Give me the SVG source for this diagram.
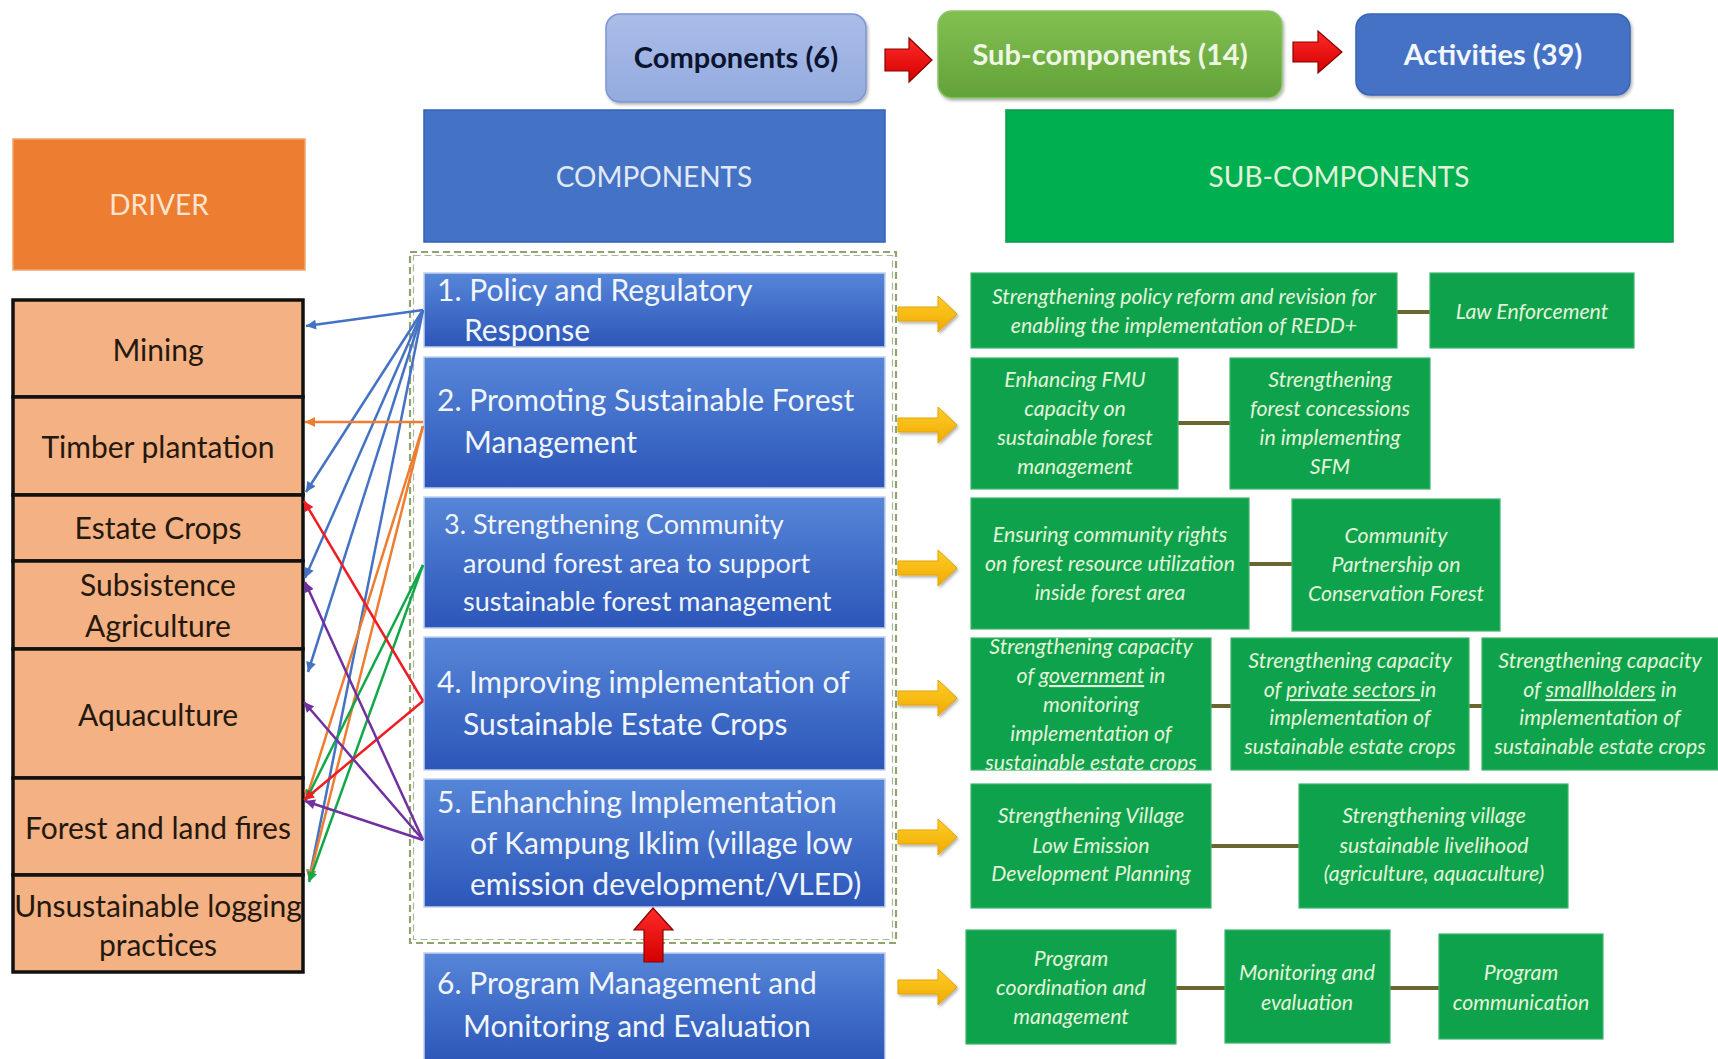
<svg xmlns="http://www.w3.org/2000/svg" width="1718" height="1059" viewBox="0 0 1718 1059">
  <defs>
    <style>
      .sans { font-family: Lato, "Liberation Sans", "DejaVu Sans", sans-serif; }
      .drv { fill: #f4b183; stroke: #111111; stroke-width: 3.5; }
      .dt { font-size: 30px; fill: #24190f; text-anchor: middle; }
      .cmp { fill: url(#gBlue); stroke: #c3d1ec; stroke-width: 1.5; }
      .ct { font-size: 30px; fill: #f1f5fc; }
      .ct-small { font-size: 27px; }
      .sub { fill: #0fa24c; stroke: #3db56c; stroke-width: 1.2; }
      .st { font-size: 21.3px; font-style: italic; fill: #e3f4da; text-anchor: middle; }
      .link { stroke: #6b6630; stroke-width: 4; fill: none; }
      .yarrow { fill: url(#gYellow); stroke: #e3a500; stroke-width: 1; filter: url(#shadow); }
      .redarrow { fill: url(#gRed); stroke: #8a0000; stroke-width: 1.2; }
      .hdr { font-size: 28px; text-anchor: middle; }
      .top { font-size: 29px; font-weight: bold; text-anchor: middle; }
      .c { fill: none; stroke-width: 2.5; }
      .blue { stroke: #4472c4; }
      .orange { stroke: #ed7d31; }
      .green { stroke: #12a84a; }
      .red { stroke: #ee1c25; }
      .purple { stroke: #7030a0; }
      .ul { text-decoration: underline; }
    </style>
    <linearGradient id="gBlue" x1="0" y1="0" x2="0" y2="1">
      <stop offset="0" stop-color="#5686d8"/>
      <stop offset="1" stop-color="#2c56b9"/>
    </linearGradient>
    <linearGradient id="gYellow" x1="0" y1="0" x2="0" y2="1">
      <stop offset="0" stop-color="#ffcd2a"/>
      <stop offset="1" stop-color="#f0aa00"/>
    </linearGradient>
    <linearGradient id="gRed" x1="0" y1="0" x2="0" y2="1">
      <stop offset="0" stop-color="#ff2a2a"/>
      <stop offset="1" stop-color="#d40000"/>
    </linearGradient>
    <linearGradient id="gLav" x1="0" y1="0" x2="0" y2="1">
      <stop offset="0" stop-color="#aabde8"/>
      <stop offset="1" stop-color="#93abdf"/>
    </linearGradient>
    <linearGradient id="gLeaf" x1="0" y1="0" x2="0" y2="1">
      <stop offset="0" stop-color="#82c051"/>
      <stop offset="1" stop-color="#62a239"/>
    </linearGradient>
    <filter id="shadow" x="-10%" y="-10%" width="130%" height="140%">
      <feDropShadow dx="1.5" dy="2" stdDeviation="1.5" flood-color="#000" flood-opacity="0.3"/>
    </filter>
    <marker id="mBlue" viewBox="0 0 10 10" refX="10" refY="5" markerWidth="11" markerHeight="10" markerUnits="userSpaceOnUse" orient="auto">
      <path d="M0,0 L10,5 L0,10 Z" fill="#4472c4"/>
    </marker>
    <marker id="mOrange" viewBox="0 0 10 10" refX="10" refY="5" markerWidth="11" markerHeight="10" markerUnits="userSpaceOnUse" orient="auto">
      <path d="M0,0 L10,5 L0,10 Z" fill="#ed7d31"/>
    </marker>
    <marker id="mGreen" viewBox="0 0 10 10" refX="10" refY="5" markerWidth="11" markerHeight="10" markerUnits="userSpaceOnUse" orient="auto">
      <path d="M0,0 L10,5 L0,10 Z" fill="#12a84a"/>
    </marker>
    <marker id="mRed" viewBox="0 0 10 10" refX="10" refY="5" markerWidth="11" markerHeight="10" markerUnits="userSpaceOnUse" orient="auto">
      <path d="M0,0 L10,5 L0,10 Z" fill="#ee1c25"/>
    </marker>
    <marker id="mPurple" viewBox="0 0 10 10" refX="10" refY="5" markerWidth="11" markerHeight="10" markerUnits="userSpaceOnUse" orient="auto">
      <path d="M0,0 L10,5 L0,10 Z" fill="#7030a0"/>
    </marker>
  </defs>

  <rect width="1718" height="1059" fill="#ffffff"/>

  <!-- Legend row: Components -> Sub-components -> Activities -->
  <g id="legend-components">
    <rect x="606" y="14" width="260" height="88" rx="14" fill="url(#gLav)" stroke="#7d96cf" stroke-width="1.5" filter="url(#shadow)"/>
    <text class="sans top" x="736" y="68" fill="#0b1530">Components (6)</text>
  </g>
  <g id="legend-arrow-1">
    <path class="redarrow" d="M885,49 H909 V38 L932,60 L909,82 V71 H885 Z"/>
  </g>
  <g id="legend-subcomponents">
    <rect x="938" y="11" width="344" height="87" rx="14" fill="url(#gLeaf)" stroke="#8cc46a" stroke-width="1.5" filter="url(#shadow)"/>
    <text class="sans top" x="1110" y="65" fill="#eef6e4">Sub-components (14)</text>
  </g>
  <g id="legend-arrow-2">
    <path class="redarrow" d="M1293,42 H1318 V31 L1342,52 L1318,73 V62 H1293 Z"/>
  </g>
  <g id="legend-activities">
    <rect x="1356" y="14" width="274" height="81" rx="14" fill="#4472c4" stroke="#3a64b4" stroke-width="1.5" filter="url(#shadow)"/>
    <text class="sans top" x="1493" y="65" fill="#f3f6fc">Activities (39)</text>
  </g>

  <!-- Column headers -->
  <g id="header-driver">
    <rect x="13" y="139" width="292" height="131" fill="#ed7d31" stroke="#f4a46c" stroke-width="1.5"/>
    <text class="sans hdr" x="159" y="215" fill="#fde4cf" font-size="27">DRIVER</text>
  </g>
  <g id="header-components">
    <rect x="424" y="110" width="461" height="132" fill="#4472c4" stroke="#3561b5" stroke-width="1.5"/>
    <text class="sans hdr" x="654" y="187" fill="#e1e9f7">COMPONENTS</text>
  </g>
  <g id="header-subcomponents">
    <rect x="1006" y="110" width="667" height="132" fill="#00b050" stroke="#0a9a48" stroke-width="1.5"/>
    <text class="sans hdr" x="1339" y="187" fill="#e3f2dc">SUB-COMPONENTS</text>
  </g>

  <!-- Drivers -->
  <g id="driver-mining">
    <rect class="drv" x="13" y="300" width="290" height="97"/>
    <text class="sans dt" x="158" y="361">Mining</text>
  </g>
  <g id="driver-timber">
    <rect class="drv" x="13" y="397" width="290" height="98"/>
    <text class="sans dt" x="158" y="458">Timber plantation</text>
  </g>
  <g id="driver-estate">
    <rect class="drv" x="13" y="495" width="290" height="66"/>
    <text class="sans dt" x="158" y="539">Estate Crops</text>
  </g>
  <g id="driver-subsistence">
    <rect class="drv" x="13" y="561" width="290" height="88"/>
    <text class="sans dt" x="158" y="596">Subsistence</text>
    <text class="sans dt" x="158" y="637">Agriculture</text>
  </g>
  <g id="driver-aquaculture">
    <rect class="drv" x="13" y="649" width="290" height="129"/>
    <text class="sans dt" x="158" y="726">Aquaculture</text>
  </g>
  <g id="driver-fires">
    <rect class="drv" x="13" y="778" width="290" height="97"/>
    <text class="sans dt" x="158" y="839">Forest and land fires</text>
  </g>
  <g id="driver-logging">
    <rect class="drv" x="13" y="875" width="290" height="97"/>
    <text class="sans dt" x="158" y="917">Unsustainable logging</text>
    <text class="sans dt" x="158" y="956">practices</text>
  </g>

  <!-- Dashed frame around components 1-5 -->
  <g id="frame">
    <rect x="410" y="252" width="486" height="691" fill="none" stroke="#8fa56d" stroke-width="2.2" stroke-dasharray="7 4"/>
    <rect x="413.5" y="255.5" width="479" height="684" fill="none" stroke="#aab59a" stroke-width="1.2" stroke-dasharray="7 4"/>
  </g>

  <!-- Components -->
  <g id="component-1">
    <rect class="cmp" x="424" y="273" width="461" height="74"/>
    <text class="sans ct" x="437" y="301">1. Policy and Regulatory</text>
    <text class="sans ct" x="464" y="341">Response</text>
  </g>
  <g id="component-2">
    <rect class="cmp" x="424" y="357" width="461" height="131"/>
    <text class="sans ct" x="437" y="411">2. Promoting Sustainable Forest</text>
    <text class="sans ct" x="464" y="453">Management</text>
  </g>
  <g id="component-3">
    <rect class="cmp" x="424" y="497" width="461" height="131"/>
    <text class="sans ct ct-small" x="444" y="534">3. Strengthening Community</text>
    <text class="sans ct ct-small" x="463" y="573">around forest area to support</text>
    <text class="sans ct ct-small" x="463" y="611">sustainable forest management</text>
  </g>
  <g id="component-4">
    <rect class="cmp" x="424" y="637" width="461" height="133"/>
    <text class="sans ct" x="437" y="693">4. Improving implementation of</text>
    <text class="sans ct" x="463" y="735">Sustainable Estate Crops</text>
  </g>
  <g id="component-5">
    <rect class="cmp" x="424" y="779" width="461" height="128"/>
    <text class="sans ct" x="437" y="813">5. Enhanching Implementation</text>
    <text class="sans ct" x="470" y="854">of Kampung Iklim (village low</text>
    <text class="sans ct" x="470" y="895">emission development/VLED)</text>
  </g>
  <g id="component-6">
    <rect class="cmp" x="424" y="953" width="461" height="110"/>
    <text class="sans ct" x="437" y="994">6. Program Management and</text>
    <text class="sans ct" x="463" y="1037">Monitoring and Evaluation</text>
  </g>

  <!-- Component 6 feeds component 5 -->
  <g id="arrow-6-to-5">
    <path class="redarrow" d="M644,962 V930 H634 L653,908 L673,930 H663 V962 Z"/>
  </g>

  <!-- Component to sub-component arrows -->
  <g id="yellow-arrows">
    <path class="yarrow" d="M898,307 H938 V296 L957,314 L938,332 V321 H898 Z"/>
    <path class="yarrow" d="M898,418 H938 V407 L957,425 L938,443 V432 H898 Z"/>
    <path class="yarrow" d="M898,561 H938 V550 L957,568 L938,586 V575 H898 Z"/>
    <path class="yarrow" d="M898,691 H938 V680 L957,698 L938,716 V705 H898 Z"/>
    <path class="yarrow" d="M898,830 H938 V819 L957,837 L938,855 V844 H898 Z"/>
    <path class="yarrow" d="M898,980 H938 V969 L957,987 L938,1005 V994 H898 Z"/>
  </g>

  <!-- Driver connectors -->
  <g id="connectors">
    <line class="c blue" x1="423" y1="310" x2="306" y2="326" marker-end="url(#mBlue)"/>
    <line class="c blue" x1="423" y1="310" x2="306" y2="492" marker-end="url(#mBlue)"/>
    <line class="c blue" x1="423" y1="310" x2="305" y2="578" marker-end="url(#mBlue)"/>
    <line class="c blue" x1="423" y1="310" x2="308" y2="672" marker-end="url(#mBlue)"/>
    <line class="c blue" x1="423" y1="310" x2="309" y2="880" marker-end="url(#mBlue)"/>

    <line class="c orange" x1="423" y1="422" x2="305" y2="422" marker-end="url(#mOrange)"/>
    <line class="c orange" x1="423" y1="426" x2="306" y2="800" marker-end="url(#mOrange)"/>
    <line class="c orange" x1="423" y1="426" x2="309" y2="880" marker-end="url(#mOrange)"/>

    <line class="c green" x1="423" y1="565" x2="306" y2="800" marker-end="url(#mGreen)"/>
    <line class="c green" x1="423" y1="565" x2="309" y2="882" marker-end="url(#mGreen)"/>

    <line class="c red" x1="423" y1="701" x2="304" y2="501" marker-end="url(#mRed)"/>
    <line class="c red" x1="423" y1="701" x2="304" y2="800" marker-end="url(#mRed)"/>

    <line class="c purple" x1="423" y1="840" x2="305" y2="582" marker-end="url(#mPurple)"/>
    <line class="c purple" x1="423" y1="840" x2="304" y2="702" marker-end="url(#mPurple)"/>
    <line class="c purple" x1="423" y1="840" x2="305" y2="801" marker-end="url(#mPurple)"/>
  </g>

  <!-- Links between sub-components -->
  <g id="sub-links">
    <line class="link" x1="1397" y1="312" x2="1430" y2="312"/>
    <line class="link" x1="1178" y1="423" x2="1230" y2="423"/>
    <line class="link" x1="1249" y1="564" x2="1292" y2="564"/>
    <line class="link" x1="1211" y1="706" x2="1231" y2="706"/>
    <line class="link" x1="1469" y1="706" x2="1482" y2="706"/>
    <line class="link" x1="1211" y1="846" x2="1299" y2="846"/>
    <line class="link" x1="1176" y1="988" x2="1225" y2="988"/>
    <line class="link" x1="1390" y1="988" x2="1439" y2="988"/>
  </g>

  <!-- Sub-components -->
  <g id="sub-1a">
    <rect class="sub" x="971" y="273" width="426" height="75"/>
    <text class="sans st" x="1184" y="304">Strengthening policy reform and revision for</text>
    <text class="sans st" x="1184" y="333">enabling the implementation of REDD+</text>
  </g>
  <g id="sub-1b">
    <rect class="sub" x="1430" y="273" width="204" height="75"/>
    <text class="sans st" x="1532" y="319">Law Enforcement</text>
  </g>
  <g id="sub-2a">
    <rect class="sub" x="971" y="358" width="207" height="131"/>
    <text class="sans st" x="1075" y="387">Enhancing FMU</text>
    <text class="sans st" x="1075" y="416">capacity on</text>
    <text class="sans st" x="1075" y="445">sustainable forest</text>
    <text class="sans st" x="1075" y="474">management</text>
  </g>
  <g id="sub-2b">
    <rect class="sub" x="1230" y="358" width="200" height="131"/>
    <text class="sans st" x="1330" y="387">Strengthening</text>
    <text class="sans st" x="1330" y="416">forest concessions</text>
    <text class="sans st" x="1330" y="445">in implementing</text>
    <text class="sans st" x="1330" y="474">SFM</text>
  </g>
  <g id="sub-3a">
    <rect class="sub" x="971" y="498" width="278" height="131"/>
    <text class="sans st" x="1110" y="542">Ensuring community rights</text>
    <text class="sans st" x="1110" y="571">on forest resource utilization</text>
    <text class="sans st" x="1110" y="600">inside forest area</text>
  </g>
  <g id="sub-3b">
    <rect class="sub" x="1292" y="499" width="208" height="132"/>
    <text class="sans st" x="1396" y="543">Community</text>
    <text class="sans st" x="1396" y="572">Partnership on</text>
    <text class="sans st" x="1396" y="601">Conservation Forest</text>
  </g>
  <g id="sub-4a">
    <rect class="sub" x="971" y="638" width="240" height="132"/>
    <text class="sans st" x="1091" y="654">Strengthening capacity</text>
    <text class="sans st" x="1091" y="683">of <tspan class="ul">government</tspan> in</text>
    <text class="sans st" x="1091" y="712">monitoring</text>
    <text class="sans st" x="1091" y="741">implementation of</text>
    <text class="sans st" x="1091" y="770">sustainable estate crops</text>
  </g>
  <g id="sub-4b">
    <rect class="sub" x="1231" y="638" width="238" height="132"/>
    <text class="sans st" x="1350" y="668">Strengthening capacity</text>
    <text class="sans st" x="1350" y="697">of <tspan class="ul">private sectors </tspan>in</text>
    <text class="sans st" x="1350" y="725">implementation of</text>
    <text class="sans st" x="1350" y="754">sustainable estate crops</text>
  </g>
  <g id="sub-4c">
    <rect class="sub" x="1482" y="638" width="236" height="132"/>
    <text class="sans st" x="1600" y="668">Strengthening capacity</text>
    <text class="sans st" x="1600" y="697">of <tspan class="ul">smallholders</tspan> in</text>
    <text class="sans st" x="1600" y="725">implementation of</text>
    <text class="sans st" x="1600" y="754">sustainable estate crops</text>
  </g>
  <g id="sub-5a">
    <rect class="sub" x="971" y="784" width="240" height="124"/>
    <text class="sans st" x="1091" y="823">Strengthening Village</text>
    <text class="sans st" x="1091" y="853">Low Emission</text>
    <text class="sans st" x="1091" y="881">Development Planning</text>
  </g>
  <g id="sub-5b">
    <rect class="sub" x="1299" y="784" width="269" height="124"/>
    <text class="sans st" x="1434" y="823">Strengthening village</text>
    <text class="sans st" x="1434" y="853">sustainable livelihood</text>
    <text class="sans st" x="1434" y="881">(agriculture, aquaculture)</text>
  </g>
  <g id="sub-6a">
    <rect class="sub" x="966" y="930" width="210" height="114"/>
    <text class="sans st" x="1071" y="966">Program</text>
    <text class="sans st" x="1071" y="995">coordination and</text>
    <text class="sans st" x="1071" y="1024">management</text>
  </g>
  <g id="sub-6b">
    <rect class="sub" x="1225" y="930" width="165" height="113"/>
    <text class="sans st" x="1307" y="980">Monitoring and</text>
    <text class="sans st" x="1307" y="1010">evaluation</text>
  </g>
  <g id="sub-6c">
    <rect class="sub" x="1439" y="934" width="164" height="105"/>
    <text class="sans st" x="1521" y="980">Program</text>
    <text class="sans st" x="1521" y="1010">communication</text>
  </g>
</svg>
